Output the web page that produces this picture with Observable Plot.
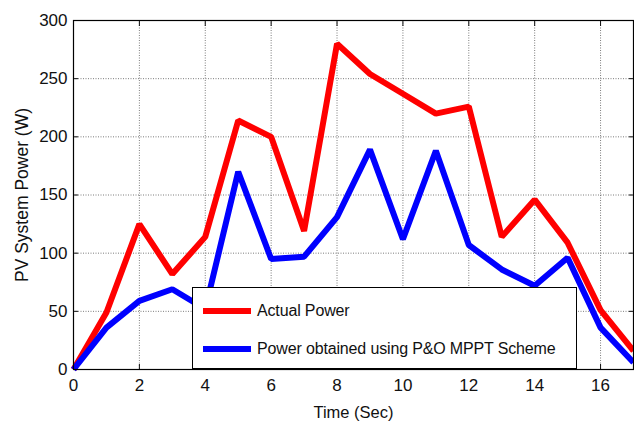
<!DOCTYPE html>
<html>
<head>
<meta charset="utf-8">
<script src="https://cdn.jsdelivr.net/npm/d3@7"></script>
<script src="https://cdn.jsdelivr.net/npm/@observablehq/plot@0.6"></script>
<style>
  html, body { margin: 0; padding: 0; background: #fff; }
  #wrap { position: relative; width: 634px; height: 424px; font-family: "Liberation Sans", Arial, sans-serif; }
  #legend { position: absolute; left: 192px; top: 287px; width: 385px; height: 82px; background: #fff; border: 1px solid #000; box-sizing: border-box; }
  .item { position: absolute; left: 10px; display: flex; align-items: center; font-size: 16px; color: #111; white-space: nowrap; letter-spacing: -0.15px; }
  .swatch { width: 48px; height: 6px; margin-right: 6px; }
</style>
</head>
<body>
<div id="wrap"></div>
<script>
const time = [0,1,2,3,4,5,6,7,8,9,10,11,12,13,14,15,16,17];
const actualPower = [0,49,125,82,114,214,200,119,280,254,237,220,226,114,146,109,51,16];
const poOutput = [0,36,59,69,52,170,95,97,131,189,112,188,107,86,72,96,36,6];
const xTicks = [0,2,4,6,8,10,12,14,16];
const yTicks = [0,50,100,150,200,250,300];
const seriesNames = ["Actual Power", "Power obtained using P&O MPPT Scheme"];
const seriesColors = ["#ff0000", "#0000ff"];

const data = [];
[actualPower, poOutput].forEach((vals, s) => {
  vals.forEach((v, i) => data.push({t: time[i], p: v, s: seriesNames[s]}));
});

const font = '"Liberation Sans", Arial, sans-serif';

const chart = Plot.plot({
  width: 634,
  height: 424,
  marginLeft: 73,
  marginRight: 1,
  marginTop: 20,
  marginBottom: 55,
  style: {fontFamily: font, fontSize: "17px", color: "#111", background: "#fff"},
  x: {domain: [0, 17]},
  y: {domain: [0, 300]},
  color: {domain: seriesNames, range: seriesColors},
  marks: [
    Plot.gridX(xTicks, {stroke: "#444", strokeOpacity: 0.7, strokeDasharray: "1,1.5"}),
    Plot.gridY(yTicks, {stroke: "#444", strokeOpacity: 0.7, strokeDasharray: "1,1.5"}),
    Plot.axisX(xTicks, {anchor: "bottom", tickSize: -5, tickPadding: 14, label: null, fontSize: 17}),
    Plot.axisX(xTicks, {anchor: "top", tickSize: -5, tickFormat: () => "", label: null}),
    Plot.axisY(yTicks, {anchor: "left", tickSize: -5, tickPadding: 11, label: null, fontSize: 17}),
    Plot.axisY(yTicks, {anchor: "right", tickSize: -5, tickFormat: () => "", label: null}),
    Plot.line(data, {x: "t", y: "p", z: "s", stroke: "s", strokeWidth: 6, strokeLinejoin: "miter", strokeLinecap: "butt"}),
    Plot.frame({stroke: "#000", strokeWidth: 1.2}),
    Plot.text(["Time (Sec)"], {frameAnchor: "bottom", dy: 48, fontSize: 16.5, fill: "#111"}),
    Plot.text(["PV System Power (W)"], {frameAnchor: "left", textAnchor: "middle", dx: -51, rotate: -90, fontSize: 17.5, fill: "#111"})
  ]
});

const wrap = document.getElementById("wrap");
wrap.appendChild(chart);

const legend = document.createElement("div");
legend.id = "legend";
seriesNames.forEach((name, i) => {
  const item = document.createElement("div");
  item.className = "item";
  item.style.top = (i === 0 ? 14 : 52) + "px";
  const sw = document.createElement("div");
  sw.className = "swatch";
  sw.style.background = seriesColors[i];
  const tx = document.createElement("span");
  tx.textContent = name;
  item.appendChild(sw);
  item.appendChild(tx);
  legend.appendChild(item);
});
wrap.appendChild(legend);
</script>
</body>
</html>
